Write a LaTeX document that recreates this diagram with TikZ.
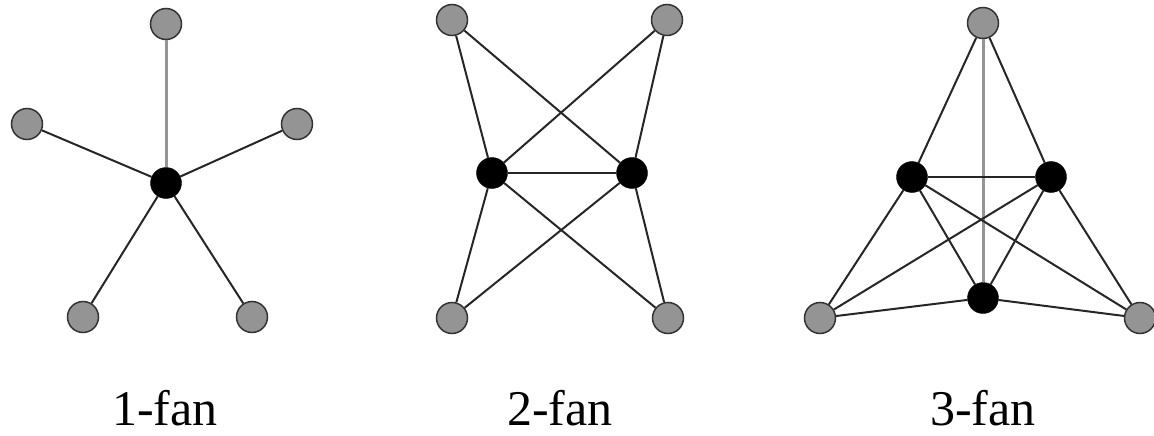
\documentclass[tikz,border=0pt]{standalone}
\usepackage{fontspec}
\setmainfont{Liberation Serif}
\begin{document}
\begin{tikzpicture}[x=1pt,y=-1pt,
  leaf/.style={circle,draw=black!80,line width=1.5pt,fill=black!42,minimum size=31pt,inner sep=0pt},
  hub/.style={circle,draw=black,fill=black,minimum size=31pt,inner sep=0pt},
  edge/.style={draw=black!85,line width=2pt},
  gedge/.style={draw=black!42,line width=3pt},
  lbl/.style={font=\fontsize{50}{60}\selectfont,anchor=base}]
\useasboundingbox (0,0) rectangle (1154,436);
% 1-fan
\node[hub] (a0) at (166,183) {};
\node[leaf] (a1) at (166,24) {};
\node[leaf] (a2) at (27,124) {};
\node[leaf] (a3) at (297,124) {};
\node[leaf] (a4) at (83,317) {};
\node[leaf] (a5) at (252,317) {};
\draw[gedge] (a1) -- (a0);
\draw[edge] (a2) -- (a0);
\draw[edge] (a3) -- (a0);
\draw[edge] (a4) -- (a0);
\draw[edge] (a5) -- (a0);
\node[lbl] (l1) at (165,425) {1-fan};
% 2-fan
\node[hub] (b1) at (492,173) {};
\node[hub] (b2) at (632,173) {};
\node[leaf] (b3) at (452,20) {};
\node[leaf] (b4) at (667,20) {};
\node[leaf] (b5) at (452,318) {};
\node[leaf] (b6) at (668,318) {};
\draw[edge] (b1) -- (b2);
\foreach \g in {b3,b4,b5,b6}{
  \draw[edge] (\g) -- (b1);
  \draw[edge] (\g) -- (b2);
}
\node[lbl] (l2) at (560,425) {2-fan};
% 3-fan
\node[hub] (c1) at (912,177) {};
\node[hub] (c2) at (1051,177) {};
\node[hub] (c3) at (983,298) {};
\node[leaf] (c4) at (983,23) {};
\node[leaf] (c5) at (820,318) {};
\node[leaf] (c6) at (1140,318) {};
\draw[gedge] (c4) -- (c3);
\draw[edge] (c4) -- (c1);
\draw[edge] (c4) -- (c2);
\draw[edge] (c1) -- (c2);
\draw[edge] (c1) -- (c3);
\draw[edge] (c2) -- (c3);
\foreach \g in {c5,c6}{
  \draw[edge] (\g) -- (c1);
  \draw[edge] (\g) -- (c2);
  \draw[edge] (\g) -- (c3);
}
\node[lbl] (l3) at (983,425) {3-fan};
\end{tikzpicture}
\end{document}
